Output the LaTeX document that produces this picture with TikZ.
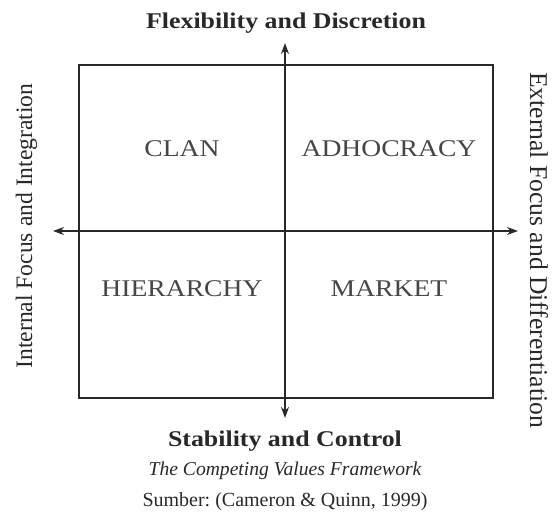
\documentclass[tikz,border=0pt]{standalone}
\usepackage{fontspec}
\setmainfont{Liberation Serif}
\newfontfamily\widefont[FakeStretch=1.15]{Liberation Serif}
\usetikzlibrary{arrows.meta,positioning}
\definecolor{inkgray}{RGB}{40,40,40}
\definecolor{labelgray}{RGB}{70,70,70}
\frenchspacing

\begin{document}
\begin{tikzpicture}[x=1pt,y=-1pt,
  axis/.style={inkgray,line width=1.5pt,
    {Stealth[length=11pt,width=8pt]}-{Stealth[length=11pt,width=8pt]}},
  quadrant/.style={labelgray,anchor=base,font=\widefont\fontsize{24}{28}\selectfont},
  pole/.style={inkgray,anchor=base,font=\widefont\bfseries\fontsize{22.5}{26}\selectfont},
  side/.style={inkgray,anchor=base,inner sep=0pt}]
  \useasboundingbox (0,0) rectangle (554,520);
  % frame and the two axes
  \draw[inkgray,line width=1.5pt] (79,65) rectangle (493,398);
  \coordinate (top) at (285,43);
  \coordinate (bottom) at (285,418);
  \coordinate (left) at (53,231);
  \coordinate (right) at (518,231);
  \draw[axis] (bottom) -- (top);
  \draw[axis] (left) -- (right);
  % the four cultures
  \node[quadrant] (clan) at (182,156) {CLAN};
  \node[quadrant] (adhocracy) at (389,156) {ADHOCRACY};
  \node[quadrant] (hierarchy) at (182,296) {HIERARCHY};
  \node[quadrant] (market) at (389,296) {MARKET};
  % axis labels
  \node[pole] (flexibility) at (286,28) {Flexibility and Discretion};
  \node[pole] (stability) at (285,446) {Stability and Control};
  \node[side,rotate=90,font=\fontsize{23.6}{28}\selectfont] (internal) at (32,226)
    {Internal Focus and Integration};
  \node[side,rotate=-90,font=\fontsize{25.6}{30}\selectfont] (external) at (530,250)
    {External Focus and Differentiation};
  % caption
  \node[inkgray,anchor=base,font=\itshape\fontsize{19.6}{24}\selectfont] (caption) at (285,475)
    {The Competing Values Framework};
  \node[inkgray,anchor=base,font=\fontsize{20}{24}\selectfont] (source) at (285,506)
    {Sumber: (Cameron \& Quinn, 1999)};
\end{tikzpicture}
\end{document}
